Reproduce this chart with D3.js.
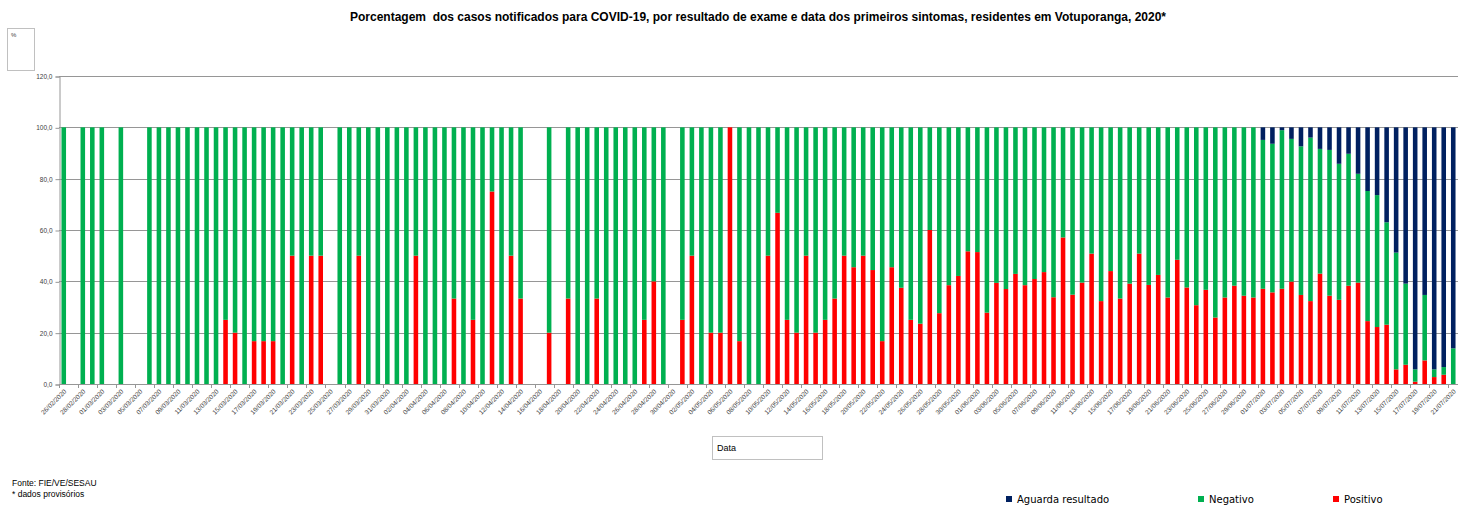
<!DOCTYPE html>
<html>
<head>
<meta charset="utf-8">
<script src="https://cdn.jsdelivr.net/npm/d3@7"></script>
<style>
  body { margin: 0; background: #fff; }
  svg { display: block; font-family: "Liberation Sans", Arial, sans-serif; }
</style>
</head>
<body>
<svg width="1463" height="507"></svg>
<script>
// Dates (categories), one per day
var dates = [
  "26/02/2020","27/02/2020","28/02/2020","29/02/2020",
  "01/03/2020","02/03/2020","03/03/2020","04/03/2020","05/03/2020","06/03/2020","07/03/2020","08/03/2020","09/03/2020","10/03/2020",
  "11/03/2020","12/03/2020","13/03/2020","14/03/2020","15/03/2020","16/03/2020","17/03/2020","18/03/2020","19/03/2020","20/03/2020",
  "21/03/2020","22/03/2020","23/03/2020","24/03/2020","25/03/2020","26/03/2020","27/03/2020","28/03/2020","29/03/2020","30/03/2020","31/03/2020",
  "01/04/2020","02/04/2020","03/04/2020","04/04/2020","05/04/2020","06/04/2020","07/04/2020","08/04/2020","09/04/2020","10/04/2020",
  "11/04/2020","12/04/2020","13/04/2020","14/04/2020","15/04/2020","16/04/2020","17/04/2020","18/04/2020","19/04/2020","20/04/2020",
  "21/04/2020","22/04/2020","23/04/2020","24/04/2020","25/04/2020","26/04/2020","27/04/2020","28/04/2020","29/04/2020","30/04/2020",
  "01/05/2020","02/05/2020","03/05/2020","04/05/2020","05/05/2020","06/05/2020","07/05/2020","08/05/2020","09/05/2020","10/05/2020",
  "11/05/2020","12/05/2020","13/05/2020","14/05/2020","15/05/2020","16/05/2020","17/05/2020","18/05/2020","19/05/2020","20/05/2020",
  "21/05/2020","22/05/2020","23/05/2020","24/05/2020","25/05/2020","26/05/2020","27/05/2020","28/05/2020","29/05/2020","30/05/2020","31/05/2020",
  "01/06/2020","02/06/2020","03/06/2020","04/06/2020","05/06/2020","06/06/2020","07/06/2020","08/06/2020","09/06/2020","10/06/2020",
  "11/06/2020","12/06/2020","13/06/2020","14/06/2020","15/06/2020","16/06/2020","17/06/2020","18/06/2020","19/06/2020","20/06/2020",
  "21/06/2020","22/06/2020","23/06/2020","24/06/2020","25/06/2020","26/06/2020","27/06/2020","28/06/2020","29/06/2020","30/06/2020",
  "01/07/2020","02/07/2020","03/07/2020","04/07/2020","05/07/2020","06/07/2020","07/07/2020","08/07/2020","09/07/2020","10/07/2020",
  "11/07/2020","12/07/2020","13/07/2020","14/07/2020","15/07/2020","16/07/2020","17/07/2020","18/07/2020","19/07/2020","20/07/2020","21/07/2020"
];

// % of cases per day
var positivo = [
  0,0,0,0,
  0,0,0,0,0,0,0,0,0,0,0,0,0,25,20,0,16.7,16.7,16.7,0,50,0,50,50,0,0,0,50,0,0,0,
  0,0,50,0,0,0,33.3,0,25,0,75,0,50,33.3,0,0,20,0,33.3,0,0,33.3,0,0,0,0,25,40,0,0,
  25,50,0,20,20,100,16.7,0,0,50,66.7,25,20,50,20,25,33.3,50,45.5,50,44.4,16.7,45.5,37.5,25,23.5,60,27.6,38.5,42.1,51.7,
  51.4,27.8,39.4,37.0,42.9,38.5,40.9,43.6,33.8,57.1,34.8,39.5,50.8,32.3,44.0,33.3,39.1,50.8,38.6,42.5,33.7,48.4,37.6,30.7,36.7,25.9,33.7,38.3,34.4,33.7,
  37.1,35.7,37.1,39.9,34.7,32.3,43.0,34.4,32.8,38.3,39.5,24.5,22.2,23.1,5.7,7.5,0.9,9.2,2.7,3.6,0
];
var negativo = [
  100,0,100,100,
  100,0,100,0,0,100,100,100,100,100,100,100,100,75,80,100,83.3,83.3,83.3,100,50,100,50,50,0,100,100,50,100,100,100,
  100,100,50,100,100,100,66.7,100,75,100,25,100,50,66.7,0,0,80,0,66.7,100,100,66.7,100,100,100,100,75,60,100,0,
  75,50,100,80,80,0,83.3,100,100,50,33.3,75,80,50,80,75,66.7,50,54.5,50,55.6,83.3,54.5,62.5,75,76.5,40,72.4,61.5,57.9,48.3,
  48.6,72.2,60.6,63.0,57.1,61.5,59.1,56.4,66.2,42.9,65.2,60.5,49.2,67.7,56.0,66.7,60.9,49.2,61.4,57.5,66.3,51.6,62.4,69.3,63.3,74.1,66.3,61.7,65.6,66.3,
  58.0,57.9,61.8,55.6,57.9,63.7,48.6,56.8,53.0,51.4,42.4,50.7,51.4,39.9,45.5,31.6,4.8,25.5,3.0,3.0,13.9
];
var aguarda = [
  0,0,0,0,
  0,0,0,0,0,0,0,0,0,0,0,0,0,0,0,0,0,0,0,0,0,0,0,0,0,0,0,0,0,0,0,
  0,0,0,0,0,0,0,0,0,0,0,0,0,0,0,0,0,0,0,0,0,0,0,0,0,0,0,0,0,0,
  0,0,0,0,0,0,0,0,0,0,0,0,0,0,0,0,0,0,0,0,0,0,0,0,0,0,0,0,0,0,0,
  0,0,0,0,0,0,0,0,0,0,0,0,0,0,0,0,0,0,0,0,0,0,0,0,0,0,0,0,0,0,
  4.9,6.4,1.1,4.5,7.4,4.0,8.4,8.8,14.2,10.3,18.1,24.8,26.4,37.0,48.8,60.9,94.3,65.3,94.3,93.4,86.1
];

var yTicks = [0, 20, 40, 60, 80, 100, 120];

var series = [
  {key: "positivo", name: "Positivo", color: "#ff0000"},
  {key: "negativo", name: "Negativo", color: "#00b050"},
  {key: "aguarda", name: "Aguarda resultado", color: "#002060"}
];

var rows = dates.map(function(d, i) {
  return {date: d, positivo: positivo[i], negativo: negativo[i], aguarda: aguarda[i]};
});

var svg = d3.select("svg");
var LEFT = 59, RIGHT = 1458, TOP = 76, BOTTOM = 384;

var x = d3.scaleBand().domain(dates).range([LEFT, RIGHT]);
var y = d3.scaleLinear().domain([0, 120]).range([BOTTOM, TOP]);
var barW = x.bandwidth() * 0.48;

// title
svg.append("text")
  .attr("x", 758).attr("y", 21)
  .attr("text-anchor", "middle")
  .attr("font-size", 12).attr("font-weight", "bold")
  .attr("fill", "#000")
  .attr("xml:space", "preserve")
  .text("Porcentagem  dos casos notificados para COVID-19, por resultado de exame e data dos primeiros sintomas, residentes em Votuporanga, 2020*");

// "%" box
svg.append("rect").attr("x", 7.5).attr("y", 28.5).attr("width", 27).attr("height", 42)
  .attr("fill", "none").attr("stroke", "#c0c0c0");
svg.append("text").attr("x", 11).attr("y", 37).attr("font-size", 6).attr("fill", "#404040").text("%");

// gridlines
svg.append("g").selectAll("line").data(yTicks).join("line")
  .attr("x1", LEFT).attr("x2", RIGHT)
  .attr("y1", function(d) { return Math.round(y(d)) + 0.5; })
  .attr("y2", function(d) { return Math.round(y(d)) + 0.5; })
  .attr("stroke", "#969696").attr("stroke-width", 1);

// y axis
var yAxis = svg.append("g")
  .attr("transform", "translate(" + (LEFT + 0.5) + ",0.5)")
  .call(d3.axisLeft(y).tickValues(yTicks).tickSize(4)
    .tickFormat(function(d) { return d3.format(".1f")(d).replace(".", ","); }));
yAxis.select(".domain").attr("stroke", "#969696");
yAxis.selectAll(".tick line").attr("stroke", "#969696");
yAxis.selectAll(".tick text").attr("font-size", 6.5).attr("fill", "#404040")
  .attr("font-family", "Liberation Sans, Arial, sans-serif");

// bars
var stacked = d3.stack().keys(["positivo", "negativo", "aguarda"])(rows);
svg.append("g").selectAll("g").data(stacked).join("g")
  .attr("fill", function(s, i) { return series[i].color; })
  .selectAll("rect").data(function(s) { return s; }).join("rect")
  .attr("x", function(d) { return x(d.data.date) + (x.bandwidth() - barW) / 2; })
  .attr("width", barW)
  .attr("y", function(d) { return y(d[1]); })
  .attr("height", function(d) { return y(d[0]) - y(d[1]); });

// x axis line + ticks every 2 categories
var every2 = dates.filter(function(d, i) { return i % 2 === 0; });
svg.append("line").attr("x1", LEFT).attr("x2", RIGHT)
  .attr("y1", BOTTOM + 0.5).attr("y2", BOTTOM + 0.5).attr("stroke", "#969696");
svg.append("g").selectAll("line").data(every2).join("line")
  .attr("x1", function(d) { return Math.round(x(d)) + 0.5; })
  .attr("x2", function(d) { return Math.round(x(d)) + 0.5; })
  .attr("y1", BOTTOM).attr("y2", BOTTOM + 4)
  .attr("stroke", "#969696");

svg.append("g").selectAll("text").data(every2).join("text")
  .attr("transform", function(d) {
    return "translate(" + (x(d) + x.bandwidth() / 2 + 3) + "," + (BOTTOM + 8) + ") rotate(-45)";
  })
  .attr("text-anchor", "end")
  .attr("font-size", 6.5).attr("fill", "#404040")
  .text(function(d) { return d; });

// "Data" box
svg.append("rect").attr("x", 712.5).attr("y", 436.5).attr("width", 110).attr("height", 23)
  .attr("fill", "none").attr("stroke", "#c0c0c0");
svg.append("text").attr("x", 717).attr("y", 451).attr("font-size", 9).attr("fill", "#000").text("Data");

// source
svg.append("text").attr("x", 12).attr("y", 486).attr("font-size", 8.5).attr("fill", "#000").text("Fonte: FIE/VE/SESAU");
svg.append("text").attr("x", 12).attr("y", 497).attr("font-size", 8.5).attr("fill", "#000").text("* dados provisórios");

// legend
var legendX = {aguarda: 1006, negativo: 1198, positivo: 1333};
var leg = svg.append("g").selectAll("g").data(series.slice().reverse()).join("g")
  .attr("transform", function(s) { return "translate(" + legendX[s.key] + ",0)"; });
leg.append("rect").attr("x", 0).attr("y", 496).attr("width", 6).attr("height", 6)
  .attr("fill", function(s) { return s.color; });
leg.append("text").attr("x", 11).attr("y", 503)
  .attr("font-family", "DejaVu Sans, sans-serif")
  .attr("font-size", 10).attr("fill", "#000")
  .text(function(s) { return s.name; });
</script>
</body>
</html>
